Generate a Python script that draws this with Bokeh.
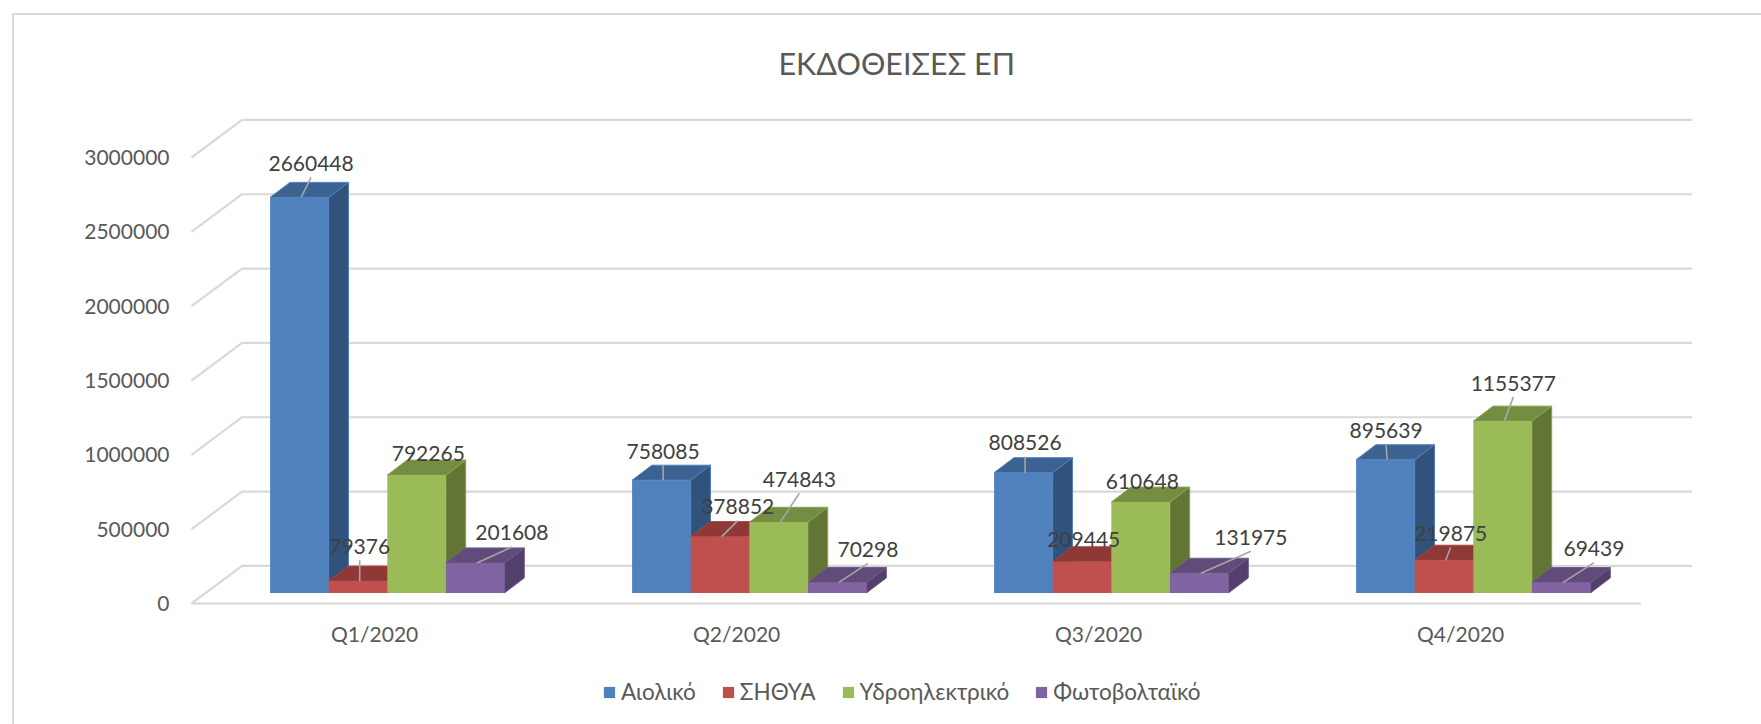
from bokeh.plotting import figure
from bokeh.models import Legend, LegendItem, FixedTicker, Range1d
from bokeh.core.properties import value
from bokeh.embed import file_html
from bokeh.resources import INLINE

# ---- data
quarters = ["Q1/2020", "Q2/2020", "Q3/2020", "Q4/2020"]
series_names = ["Αιολικό", "ΣΗΘΥΑ", "Υδροηλεκτρικό", "Φωτοβολταϊκό"]
aioliko = [2660448, 758085, 808526, 895639]
sithya = [79376, 378852, 209445, 219875]
ydro = [792265, 474843, 610648, 1155377]
fotovoltaika = [201608, 70298, 131975, 69439]
y_ticks = [0, 500000, 1000000, 1500000, 2000000, 2500000, 3000000]
title_text = "ΕΚΔΟΘΕΙΣΕΣ ΕΠ"

# ---- styles and layout
front_colors = ["#4f81bd", "#c0504d", "#9bbb59", "#8064a2"]
top_colors = ["#3b6290", "#8f3937", "#758d43", "#614b7b"]
side_colors = ["#31527a", "#7a302e", "#637535", "#523f6b"]
edge_colors = ["#4f81bd", "#a64644", "#87a34d", "#6f578d"]
FONT = "Lato"
PX_PER_VALUE = 446 / 3000000
PX_PER_GROUP = 362.0
PLOT_W, PLOT_H = 1501, 503
PAD = 3                             # frame margin so that lines on its edge stay whole
BELOW = 121                         # frame height below the floor: axis labels and legend
FLOOR_DX, FLOOR_DY = 50.6, 37.6     # depth of the chart floor
BAR_DX, BAR_DY = 19.8, 15.0         # depth of a bar
BAR_W = 58.6                        # front width of a bar
BAR_LIFT = 10.6                     # bar plane above the floor front
GROUP_START = 78.6                  # first bar's left edge from the floor's left edge
LEADER_START = 31.0
LABEL_GAP = 14.0
# label centre relative to each bar's top-left front corner, and whether a leader line is drawn
label_dx = [[41, 31, 41, 66], [31, 47, 50, 60], [31, 31, 31, 81], [30, 36, 40, 62]]
label_dy = [[-34, -35, -22, -30], [-29, -30, -43, -33], [-30, -22, -21, -36], [-29, -27, -38, -34]]
has_leader = [[1, 1, 0, 1], [1, 1, 1, 1], [1, 0, 0, 1], [1, 1, 1, 1]]

series = [aioliko, sithya, ydro, fotovoltaika]


def xv(px):
    return px / PX_PER_GROUP


def yv(px):
    return px / PX_PER_VALUE


p = figure(width=1747, height=709, frame_width=PLOT_W + PAD, frame_height=PLOT_H + BELOW,
           min_border_left=174, min_border_right=69, min_border_top=85, min_border_bottom=0,
           x_range=Range1d(-xv(PAD), xv(PLOT_W)), y_range=Range1d(-yv(BELOW), yv(PLOT_H)),
           output_backend="svg", toolbar_location=None, title=title_text)
p.margin = (13, 0, 0, 12)
p.styles = {"border-top": "2px solid #d9d9d9", "border-left": "2px solid #d9d9d9"}
p.outline_line_color = None
p.xgrid.visible = False
p.ygrid.visible = False
p.background_fill_color = "white"
p.border_fill_color = "white"

p.title.text_font = FONT
p.title.text_font_size = "30.5px"
p.title.text_font_style = "normal"
p.title.text_color = "#595959"
p.title.align = "left"
p.title.offset = 590
p.title.standoff = 40

# axes
p.yaxis.ticker = FixedTicker(ticks=y_ticks)
p.yaxis.formatter.use_scientific = False
p.yaxis.axis_line_color = None
p.yaxis.major_tick_line_color = None
p.yaxis.minor_tick_line_color = None
p.yaxis.major_label_standoff = 13
p.yaxis.major_label_text_font = FONT
p.yaxis.major_label_text_font_size = "21px"
p.yaxis.major_label_text_color = "#595959"

p.xaxis.fixed_location = 0
p.xaxis.ticker = FixedTicker(ticks=[i + 0.506 for i in range(len(quarters))])
p.xaxis.major_label_overrides = {i + 0.506: q for i, q in enumerate(quarters)}
p.xaxis.axis_line_color = None
p.xaxis.major_tick_line_color = None
p.xaxis.minor_tick_line_color = None
p.xaxis.major_label_standoff = 11
p.xaxis.major_label_text_font = FONT
p.xaxis.major_label_text_font_size = "21px"
p.xaxis.major_label_text_color = "#595959"

# walls: grid lines run along the floor depth then across the back wall
grid_xs = [[0, xv(FLOOR_DX), xv(PLOT_W)] for _ in y_ticks]
grid_ys = [[v, v + yv(FLOOR_DY), v + yv(FLOOR_DY)] for v in y_ticks]
p.multi_line(grid_xs, grid_ys, line_color="#d9d9d9", line_width=2.2)
p.line([0, len(quarters) + 0.004], [0, 0], line_color="#d9d9d9", line_width=2.2)

# bars, painted left to right so that each one hides what lies behind it
legend_items = []
base = yv(BAR_LIFT)
ddx, ddy = xv(BAR_DX), yv(BAR_DY)
w = xv(BAR_W)
for j, name in enumerate(series_names):
    lefts = [i + xv(GROUP_START) + j * w for i in range(len(quarters))]
    tops = [base + v for v in series[j]]
    side_x = [[l + w, l + w + ddx, l + w + ddx, l + w] for l in lefts]
    side_y = [[base, base + ddy, t + ddy, t] for t in tops]
    top_x = [[l, l + ddx, l + w + ddx, l + w] for l in lefts]
    top_y = [[t, t + ddy, t + ddy, t] for t in tops]
    p.patches(side_x, side_y, fill_color=side_colors[j], line_color=edge_colors[j], line_width=1)
    p.patches(top_x, top_y, fill_color=top_colors[j], line_color=edge_colors[j], line_width=1)
    r = p.quad(left=lefts, right=[l + w for l in lefts], bottom=[base] * len(lefts), top=tops,
               fill_color=front_colors[j], line_color=None)
    legend_items.append(LegendItem(label=name, renderers=[r]))

# data labels and leader lines
lab_x, lab_y, lab_t, x0, y0, x1, y1 = [], [], [], [], [], [], []
for j in range(len(series_names)):
    for i in range(len(quarters)):
        left = i + xv(GROUP_START) + j * w
        top = base + series[j][i]
        lx = left + xv(label_dx[i][j])
        ly = top + yv(-label_dy[i][j])
        lab_x.append(lx)
        lab_y.append(ly)
        lab_t.append(str(series[j][i]))
        if has_leader[i][j]:
            x0.append(left + xv(LEADER_START))
            y0.append(top)
            x1.append(lx)
            y1.append(ly - yv(LABEL_GAP))
p.segment(x0, y0, x1, y1, line_color="#a6a6a6", line_width=1.6)
p.text(lab_x, lab_y, text=lab_t, text_font=value(FONT), text_font_size="21px", text_color="#404040",
       text_align="center", text_baseline="middle")

# legend
legend = Legend(items=legend_items, orientation="horizontal", location=(414, 19),
                glyph_width=14, glyph_height=14, label_standoff=5, spacing=25, padding=0, margin=0,
                border_line_color=None, background_fill_alpha=0,
                label_text_font=FONT, label_text_font_size="22.5px", label_text_color="#595959")
p.add_layout(legend)

open("out.html", "w").write(file_html(p, INLINE))
